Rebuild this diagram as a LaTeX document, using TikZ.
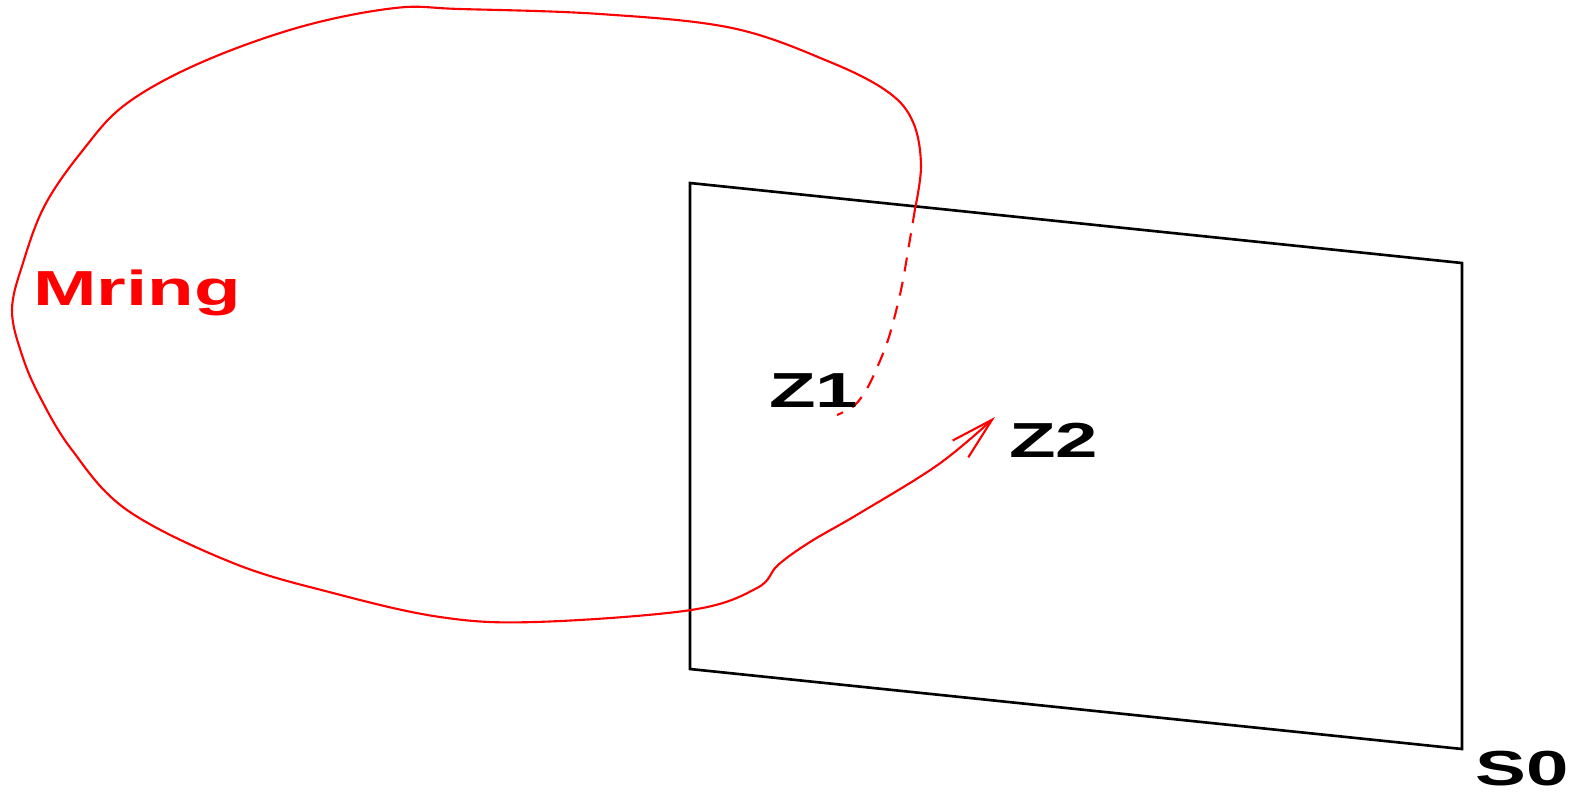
\documentclass[tikz,border=0pt]{standalone}
\usepackage{fontspec}
\newfontfamily\lblfont{Liberation Sans Bold}[FakeStretch=1.55]
\usepackage{tikz}
\usetikzlibrary{arrows.meta}
\tikzset{plane/.style={draw, line width=1.5pt, line join=miter},
  ring/.style={draw=red, line width=1.2pt},
  hidden/.style={ring, dash pattern=on 8pt off 6pt},
  lbl/.style={anchor=base west, inner sep=0pt, font=\lblfont\fontsize{28pt}{30pt}\selectfont}}

\begin{document}
\begin{tikzpicture}[x=0.02cm, y=-0.02cm]
  \useasboundingbox (0,0) rectangle (1583,799);
  % the surface S0
  \coordinate (tl) at (690,183);
  \coordinate (tr) at (1462,263);
  \coordinate (br) at (1462,749);
  \coordinate (bl) at (690,669);
  \draw[plane] (tl) -- (tr) -- (br) -- (bl) -- cycle;
  % points where the ring meets the surface
  \coordinate (cross) at (915,209);
  \coordinate (z1end) at (837,415);
  \coordinate (z2tip) at (995,417);
  % ring, hidden part behind the surface
  \draw[hidden] plot[smooth] coordinates {(cross) (909,245) (901,290)
    (888,340) (870,383) (855,405) (z1end)};
  % ring, visible part
  \draw[ring, -{Straight Barb[length=0.86cm, width=0.46cm]}] plot[smooth, tension=0.6] coordinates {(cross)
    (921,165) (913,122) (888,92) (830,62) (732,28) (600,14) (460,9) (395,8)
    (300,27) (200,63) (126,104) (83,150) (45,205) (23,263) (12,310) (22,355)
    (40,397) (72,450) (127,510) (233,563) (333,593) (440,617) (535,622)
    (691,610) (757,588) (778,565) (810,542) (860,513) (939,464) (z2tip)};
  % labels
  \node[lbl, text=red] (mring) at (33,305) {Mring};
  \node[lbl] (z1) at (769,407) {Z1};
  \node[lbl] (z2) at (1009,457) {Z2};
  \node[lbl] (s0) at (1475,785) {S0};
\end{tikzpicture}
\end{document}
